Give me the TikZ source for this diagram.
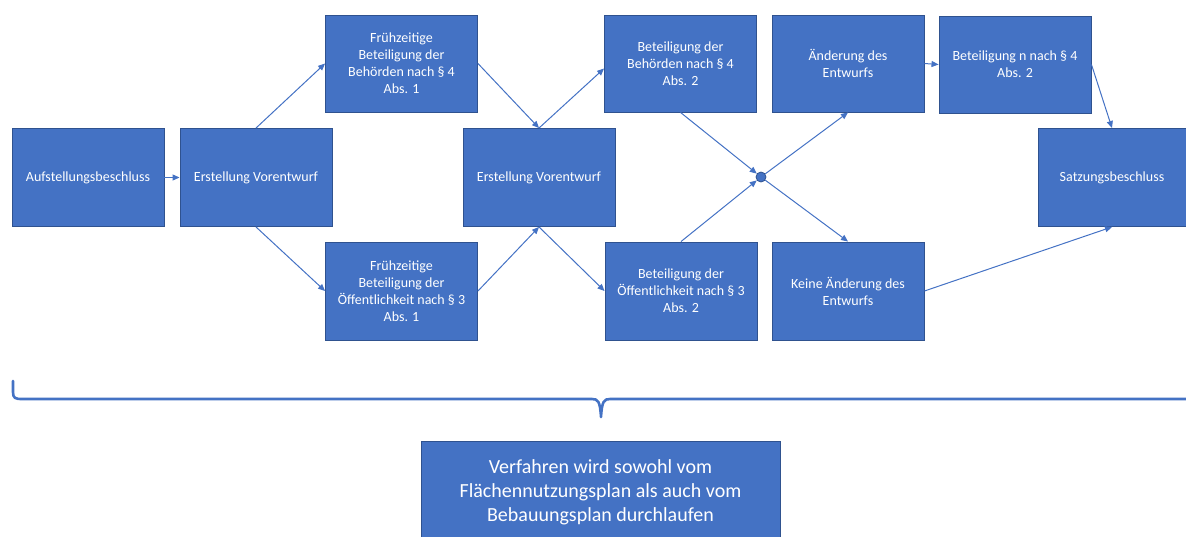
\documentclass[tikz,border=0pt]{standalone}
\usepackage{fontspec}
\setmainfont{Carlito}
\usetikzlibrary{arrows.meta}
\definecolor{boxblue}{HTML}{4472C4}
\definecolor{boxedge}{HTML}{2F528F}
\tikzset{
  stepbox/.style={rectangle, fill=boxblue, draw=boxedge, line width=0.9pt,
    minimum width=152pt, minimum height=98pt, inner sep=2pt,
    text=white, align=center, font=\fontsize{14}{17}\selectfont},
  flow/.style={draw=boxblue, line width=1pt, -{Triangle[length=7pt,width=6pt]}},
  junction/.style={circle, fill=boxblue, draw=boxedge, line width=0.8pt,
    minimum size=10pt, inner sep=0pt},
  bracket/.style={draw=boxblue, line width=2.6pt, line cap=round, line join=round}
}
\begin{document}
\begin{tikzpicture}[x=1pt, y=-1pt]
\useasboundingbox (0,0) rectangle (1186,536);

% first row of process steps
\node[stepbox] (auf) at (88,177.5) {Aufstellungsbeschluss};
\node[stepbox] (vor1) at (256,177.5) {Erstellung Vorentwurf};
\node[stepbox, minimum height=97pt] (fbeh) at (401.5,63.5) {Frühzeitige\\Beteiligung der\\Behörden nach § 4\\Abs. 1};
\node[stepbox] (foef) at (401.5,291) {Frühzeitige\\Beteiligung der\\Öffentlichkeit nach § 3\\Abs. 1};
\node[stepbox] (vor2) at (539,177.5) {Erstellung Vorentwurf};
\node[stepbox, minimum height=97pt] (beh) at (680.5,63.5) {Beteiligung der\\Behörden nach § 4\\Abs. 2};
\node[stepbox] (oef) at (681,291) {Beteiligung der\\Öffentlichkeit nach § 3\\Abs. 2};
\node[junction] (dot) at (761,177) {};
\node[stepbox, minimum height=97pt] (aend) at (848,63.5) {Änderung des\\Entwurfs};
\node[stepbox] (kein) at (848,291) {Keine Änderung des\\Entwurfs};
\node[stepbox, minimum height=97pt] (beh2) at (1015,64.5) {Beteiligung n nach § 4\\Abs. 2};
\node[stepbox, minimum width=148pt] (satz) at (1112,177.5) {Satzungsbeschluss};

% connectors
\draw[flow] (auf.east) -- (vor1.west);
\draw[flow] (vor1.north) -- (fbeh.west);
\draw[flow] (vor1.south) -- (foef.west);
\draw[flow] (fbeh.east) -- (vor2.north);
\draw[flow] (foef.east) -- (vor2.south);
\draw[flow] (vor2.north) -- ([yshift=-5pt]beh.west);
\draw[flow] (vor2.south) -- (oef.west);
\draw[flow] (beh.south) -- (dot);
\draw[flow] (oef.north) -- (dot);
\draw[flow] (dot) -- (aend.south);
\draw[flow] (dot) -- (kein.north);
\draw[flow] (aend.east) -- (beh2.west);
\draw[flow] (beh2.east) -- (satz.north);
\draw[flow] (kein.east) -- (satz.south);

% brace spanning the whole procedure
\coordinate (bl) at (13,381);
\coordinate (bt) at (601,417);
\coordinate (br) at (1200,399);
\draw[bracket] (bl) -- (13,392) .. controls (13,398) and (15,399) .. (22,399)
  -- (592,399) .. controls (598,399) and (600,401) .. (bt)
  .. controls (602,401) and (604,399) .. (610,399) -- (br);

% summary note
\node[stepbox, minimum width=359pt, minimum height=102pt,
  font=\fontsize{20}{24}\selectfont] (note) at (600.5,492)
  {Verfahren wird sowohl vom\\Flächennutzungsplan als auch vom\\Bebauungsplan durchlaufen};
\end{tikzpicture}
\end{document}
